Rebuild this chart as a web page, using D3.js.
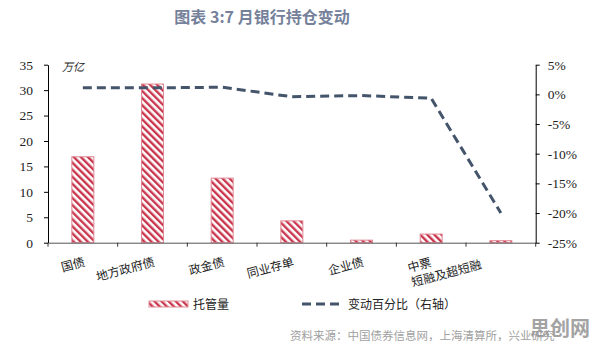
<!DOCTYPE html>
<html>
<head>
<meta charset="utf-8">
<script src="https://cdn.jsdelivr.net/npm/d3@7"></script>
<style>
body { margin: 0; background: #fff; }
.axis text { font-family: "Liberation Serif", "DejaVu Serif", serif; font-size: 13.5px; fill: #222; }
.cat { font-family: "Noto Sans CJK SC", sans-serif; font-size: 12px; fill: #222; }
</style>
</head>
<body>
<div id="drawing"></div>
<script>
"use strict"

/**** data ****/
let categories = ["国债", "地方政府债", "政金债", "同业存单", "企业债", "中票", "短融及超短融"]
// the last two categories share one two-line label in the chart
let catLabels = [["国债"], ["地方政府债"], ["政金债"], ["同业存单"], ["企业债"], ["中票", "短融及超短融"], []]
let holdings = [16.9, 31.2, 12.7, 4.3, 0.5, 1.7, 0.4]      // 万亿
let changePct = [1.1, 1.1, 1.2, -0.4, -0.2, -0.65, -20]  // %
let leftTicks = [0, 5, 10, 15, 20, 25, 30, 35]
let rightTicks = [-25, -20, -15, -10, -5, 0, 5]

/**** layout ****/
let svgWidth = 596
let svgHeight = 346
let plotLeft = 48
let plotRight = 535.7
let plotTop = 64.7
let plotBottom = 242.7

let svg = d3.select("#drawing").append("svg")
  .attr("width", svgWidth)
  .attr("height", svgHeight)

/* hatch pattern */
let defs = svg.append("defs")
let pat = defs.append("pattern")
  .attr("id", "hatch")
  .attr("patternUnits", "userSpaceOnUse")
  .attr("width", 5)
  .attr("height", 5)
  .attr("patternTransform", "rotate(-45)")
pat.append("rect").attr("width", 5).attr("height", 5).attr("fill", "#fff")
pat.append("rect").attr("width", 2.4).attr("height", 5).attr("fill", "#c8354c")

/**** scales ****/
let xScale = d3.scaleBand()
  .domain(categories)
  .range([plotLeft, plotRight])
  .padding(0)

let yLeft = d3.scaleLinear().domain([0, 35]).range([plotBottom, plotTop])
let yRight = d3.scaleLinear().domain([-25, 5]).range([plotBottom, plotTop])

let xMid = c => xScale(c) + xScale.bandwidth() / 2

/**** title ****/
svg.append("text")
  .attr("x", 262)
  .attr("y", 23)
  .attr("text-anchor", "middle")
  .style("font-family", "Noto Sans CJK SC")
  .style("font-size", "16px")
  .style("font-weight", "bold")
  .style("fill", "#75819a")
  .text("图表 3:7 月银行持仓变动")

/**** bars ****/
let barW = 22
svg.selectAll("rect.bar")
  .data(holdings)
  .join("rect")
  .attr("class", "bar")
  .attr("x", (d, i) => xMid(categories[i]) - barW / 2)
  .attr("y", d => yLeft(d))
  .attr("width", barW)
  .attr("height", d => yLeft(0) - yLeft(d))
  .attr("fill", "url(#hatch)")
  .attr("stroke", "#e08a96")
  .attr("stroke-width", 1)

/**** line ****/
let line = d3.line()
  .x((d, i) => xMid(categories[i]))
  .y(d => yRight(d))

svg.append("path")
  .datum(changePct)
  .attr("d", line)
  .attr("fill", "none")
  .attr("stroke", "#44546a")
  .attr("stroke-width", 3)
  .attr("stroke-linejoin", "round")
  .attr("stroke-dasharray", "9,5")

/**** axes ****/
svg.append("g")
  .attr("class", "axis")
  .attr("transform", `translate(${plotLeft},0)`)
  .call(d3.axisLeft(yLeft).tickValues(leftTicks).tickSize(4).tickSizeOuter(0).tickPadding(11))
svg.append("g")
  .attr("class", "axis")
  .attr("transform", `translate(${plotRight},0)`)
  .call(d3.axisRight(yRight).tickValues(rightTicks).tickSize(4).tickSizeOuter(0).tickPadding(8)
    .tickFormat(d => d + "%"))
let gb = svg.append("g")
  .attr("class", "axis")
  .attr("transform", `translate(0,${plotBottom})`)
  .call(d3.axisBottom(xScale).tickSize(0).tickSizeOuter(0).tickFormat(""))
gb.select(".domain").attr("stroke", "#555")

// tick marks between categories
let bounds = categories.map(c => xScale(c)).concat([plotRight])
svg.selectAll("line.xtick")
  .data(bounds)
  .join("line")
  .attr("class", "xtick")
  .attr("x1", d => d).attr("x2", d => d)
  .attr("y1", plotBottom).attr("y2", plotBottom + 4)
  .attr("stroke", "#333")

/**** category labels ****/
catLabels.forEach(function(lines, i) {
  if (lines.length == 0) return
  let g = svg.append("g").attr("transform", `translate(${xMid(categories[i])},255) rotate(-15)`)
  lines.forEach(function(t, j) {
    g.append("text")
      .attr("class", "cat")
      .attr("x", lines.length > 1 ? -26 : 0)
      .attr("y", 11 + j * 15)
      .attr("text-anchor", lines.length > 1 ? "start" : "end")
      .text(t)
  })
})

/**** unit ****/
svg.append("text")
  .attr("x", 62)
  .attr("y", 71)
  .style("font-family", "Noto Sans CJK SC")
  .style("font-size", "11px")
  .style("font-style", "italic")
  .style("fill", "#222")
  .text("万亿")

/**** legend ****/
svg.append("rect")
  .attr("x", 149).attr("y", 301)
  .attr("width", 39).attr("height", 6)
  .attr("fill", "url(#hatch)")
  .attr("stroke", "#e08a96")
svg.append("text")
  .attr("class", "cat")
  .attr("x", 193).attr("y", 308.5)
  .text("托管量")
svg.append("line")
  .attr("x1", 302).attr("x2", 344)
  .attr("y1", 304).attr("y2", 304)
  .attr("stroke", "#44546a")
  .attr("stroke-width", 3)
  .attr("stroke-dasharray", "9,5")
svg.append("text")
  .attr("class", "cat")
  .attr("x", 348).attr("y", 308.5)
  .text("变动百分比（右轴）")

/**** source + watermark ****/
svg.append("text")
  .attr("x", 290).attr("y", 340)
  .style("font-family", "Noto Sans CJK SC")
  .style("font-size", "11.5px")
  .style("fill", "#a0a0a0")
  .text("资料来源：中国债券信息网，上海清算所，兴业研究")
svg.append("text")
  .attr("x", 530).attr("y", 336)
  .style("font-family", "Noto Sans CJK SC")
  .style("font-size", "20px")
  .style("font-weight", "bold")
  .style("fill", "#9a9a9a")
  .style("opacity", 0.9)
  .text("思创网")
</script>
</body>
</html>
